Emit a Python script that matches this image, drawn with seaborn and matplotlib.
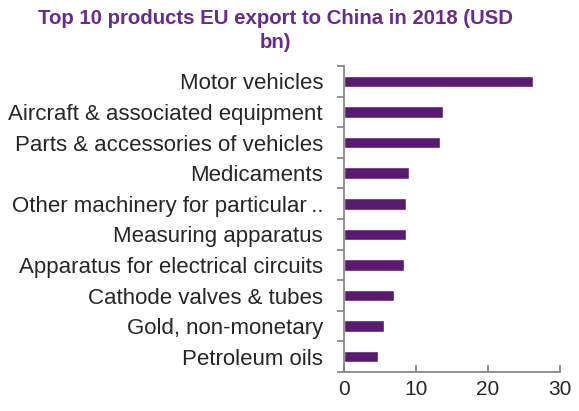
import matplotlib
matplotlib.use("Agg")
import matplotlib.pyplot as plt
import seaborn as sns
import pandas as pd
import numpy as np

products = [
    "Motor vehicles",
    "Aircraft & associated equipment",
    "Parts & accessories of vehicles",
    "Medicaments",
    "Other machinery for particular\u2009..",
    "Measuring apparatus",
    "Apparatus for electrical circuits",
    "Cathode valves & tubes",
    "Gold, non-monetary",
    "Petroleum oils",
]
export_usd_bn = [26.3, 13.8, 13.4, 9.1, 8.6, 8.6, 8.4, 6.9, 5.6, 4.7]
x_ticks = [0, 10, 20, 30]

df = pd.DataFrame({"product": products, "value": export_usd_bn})

sns.set_theme(style="white")
plt.rcParams["font.family"] = ["Liberation Sans", "DejaVu Sans"]

fig = plt.figure(figsize=(5.79, 4.11), dpi=100)
ax = fig.add_axes([0.594, 0.095, 0.373, 0.744])

sns.barplot(data=df, y="product", x="value", orient="h", color="#5a1a72",
            saturation=1, width=0.38, ax=ax)

ax.set_xlim(0, 30)
ax.set_ylim(len(products) - 0.5, -0.5)
ax.set_xticks(x_ticks)
ax.set_xticklabels([str(t) for t in x_ticks], fontsize=15, color="#262626")
ax.set_xlabel("")
ax.set_ylabel("")

# category labels without major tick marks; boundary ticks as minor ticks
ax.set_yticks(range(len(products)))
ax.set_yticklabels(products, fontsize=16, color="#262626")
ax.tick_params(axis="y", which="major", length=0, pad=15)
ax.set_yticks(np.arange(-0.5, len(products)), minor=True)
ax.tick_params(axis="y", which="minor", length=5, width=1.2, color="#7f7f7f",
               direction="out", left=True)
ax.tick_params(axis="x", which="major", length=5, width=1.2, color="#7f7f7f",
               direction="in", bottom=True, pad=6)

for side in ["top", "right"]:
    ax.spines[side].set_visible(False)
for side in ["left", "bottom"]:
    ax.spines[side].set_color("#7f7f7f")
    ax.spines[side].set_linewidth(1.2)

fig.text(0.475, 0.978, "Top 10 products EU export to China in 2018 (USD\nbn)",
         ha="center", va="top", fontsize=14.7, fontweight="bold",
         color="#6a2a8c", linespacing=1.35)

fig.savefig("out.png", dpi=100)
